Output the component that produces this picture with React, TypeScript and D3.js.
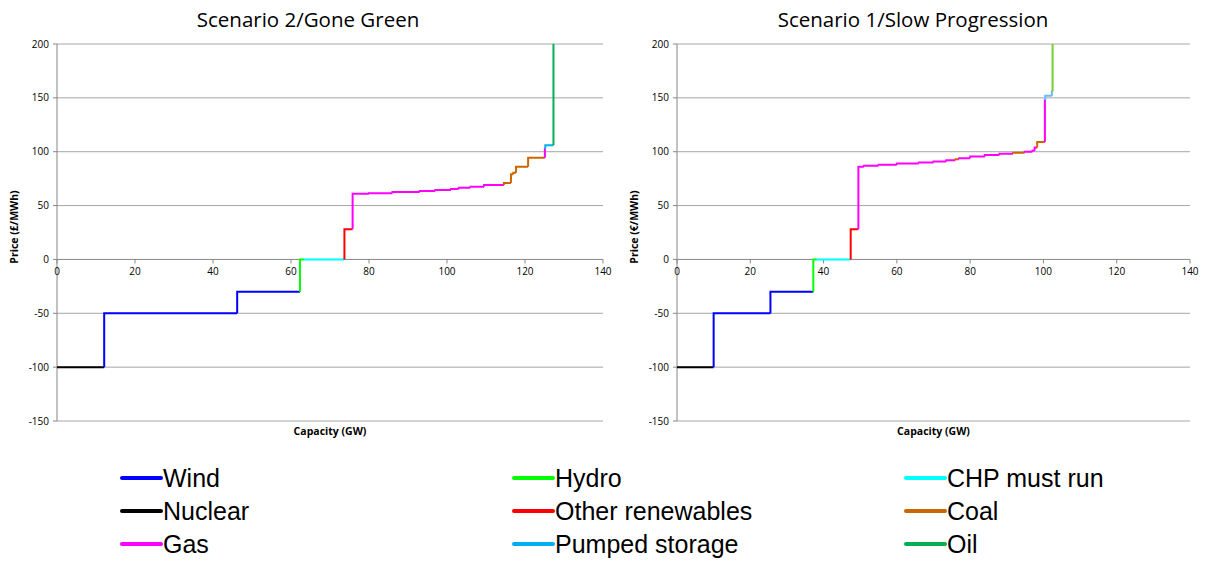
import React from "react";
import * as d3 from "d3";

type Step = { fuel: string; x0: number; x1: number; price: number };

const fuels = ["Wind", "Nuclear", "Gas", "Hydro", "Other renewables", "Pumped storage", "CHP must run", "Coal", "Oil"];
const fuelColors: Record<string, string> = {
  Wind: "#0000FF",
  Nuclear: "#000000",
  Gas: "#FF00FF",
  Hydro: "#00FF00",
  "Other renewables": "#FF0000",
  "Pumped storage": "#00B0F0",
  "CHP must run": "#00FFFF",
  Coal: "#CC6600",
  Oil: "#00B050",
};
const rightOverrides: Record<string, string> = { Oil: "#77CC33", "Pumped storage": "#66BBFF" };

const xTicks = [0, 20, 40, 60, 80, 100, 120, 140];
const yTicks = [-150, -100, -50, 0, 50, 100, 150, 200];

// Scenario 2 / Gone Green merit order
const goneGreen: Step[] = [
  { fuel: "Nuclear", x0: 0, x1: 12.1, price: -100 },
  { fuel: "Wind", x0: 12.1, x1: 46.2, price: -50 },
  { fuel: "Wind", x0: 46.2, x1: 62.3, price: -30 },
  { fuel: "Hydro", x0: 62.3, x1: 63.3, price: 0 },
  { fuel: "CHP must run", x0: 63.3, x1: 73.7, price: 0 },
  { fuel: "Other renewables", x0: 73.7, x1: 75.8, price: 28 },
  { fuel: "Gas", x0: 75.8, x1: 80, price: 61 },
  { fuel: "Gas", x0: 80, x1: 86, price: 61.5 },
  { fuel: "Gas", x0: 86, x1: 93, price: 62.5 },
  { fuel: "Gas", x0: 93, x1: 97, price: 63.5 },
  { fuel: "Gas", x0: 97, x1: 101, price: 64.5 },
  { fuel: "Gas", x0: 101, x1: 103, price: 65.5 },
  { fuel: "Gas", x0: 103, x1: 106, price: 66.5 },
  { fuel: "Gas", x0: 106, x1: 109.5, price: 67.5 },
  { fuel: "Gas", x0: 109.5, x1: 114.6, price: 69 },
  { fuel: "Coal", x0: 114.6, x1: 116.4, price: 71 },
  { fuel: "Coal", x0: 116.4, x1: 117, price: 79 },
  { fuel: "Coal", x0: 117, x1: 117.7, price: 80.5 },
  { fuel: "Coal", x0: 117.7, x1: 120.8, price: 86 },
  { fuel: "Coal", x0: 120.8, x1: 125.1, price: 94.5 },
  { fuel: "Gas", x0: 125.1, x1: 125.2, price: 102.8 },
  { fuel: "Pumped storage", x0: 125.2, x1: 127.3, price: 106 },
  { fuel: "Oil", x0: 127.3, x1: 127.4, price: 200 },
];

// Scenario 1 / Slow Progression merit order
const slowProgression: Step[] = [
  { fuel: "Nuclear", x0: 0, x1: 10, price: -100 },
  { fuel: "Wind", x0: 10, x1: 25.5, price: -50 },
  { fuel: "Wind", x0: 25.5, x1: 37.2, price: -30 },
  { fuel: "Hydro", x0: 37.2, x1: 38.1, price: 0 },
  { fuel: "CHP must run", x0: 38.1, x1: 47.4, price: 0 },
  { fuel: "Other renewables", x0: 47.4, x1: 49.5, price: 28 },
  { fuel: "Gas", x0: 49.5, x1: 51, price: 86 },
  { fuel: "Gas", x0: 51, x1: 55, price: 87 },
  { fuel: "Gas", x0: 55, x1: 60, price: 88 },
  { fuel: "Gas", x0: 60, x1: 66, price: 89 },
  { fuel: "Gas", x0: 66, x1: 70, price: 90 },
  { fuel: "Gas", x0: 70, x1: 73.5, price: 91 },
  { fuel: "Gas", x0: 73.5, x1: 76, price: 92 },
  { fuel: "Coal", x0: 76, x1: 77, price: 93 },
  { fuel: "Gas", x0: 77, x1: 80, price: 94 },
  { fuel: "Gas", x0: 80, x1: 84, price: 95.5 },
  { fuel: "Gas", x0: 84, x1: 88, price: 97 },
  { fuel: "Gas", x0: 88, x1: 91.7, price: 98 },
  { fuel: "Coal", x0: 91.7, x1: 94.9, price: 99 },
  { fuel: "Gas", x0: 94.9, x1: 97, price: 100 },
  { fuel: "Gas", x0: 97, x1: 97.6, price: 101 },
  { fuel: "Gas", x0: 97.6, x1: 98.3, price: 104 },
  { fuel: "Coal", x0: 98.3, x1: 100.4, price: 109 },
  { fuel: "Gas", x0: 100.4, x1: 100.5, price: 148 },
  { fuel: "Pumped storage", x0: 100.5, x1: 102.3, price: 152 },
  { fuel: "Pumped storage", x0: 102.3, x1: 102.5, price: 156 },
  { fuel: "Oil", x0: 102.5, x1: 102.6, price: 200 },
];

const tickFont = "'Open Sans', sans-serif";

function Panel(props: {
  steps: Step[];
  left: number;
  right: number;
  title: string;
  titleX: number;
  yLabel: string;
  overrides?: Record<string, string>;
  id: string;
}) {
  const { steps, left, right, title, titleX, yLabel, overrides, id } = props;
  const top = 44;
  const bottom = 421;
  const x = d3.scaleLinear().domain([0, 140]).range([left, right]);
  const y = d3.scaleLinear().domain([-150, 200]).range([bottom, top]);
  const line = d3.line<[number, number]>().x((d) => x(d[0])).y((d) => y(d[1]));
  const color = (f: string) => (overrides && overrides[f]) || fuelColors[f];
  const y0 = y(0);
  return (
    <g>
      <text x={titleX} y={27} textAnchor="middle" fontFamily="'Open Sans', sans-serif" fontSize={20.5} fill="#000">
        {title}
      </text>
      {yTicks.map((t) => (
        <g key={"y" + t}>
          {t !== -150 && t !== 0 ? (
            <line x1={left} x2={right} y1={y(t)} y2={y(t)} stroke="#A6A6A6" strokeWidth={1} />
          ) : null}
          <line x1={left - 4} x2={left} y1={y(t)} y2={y(t)} stroke="#868686" strokeWidth={1} />
          <text x={left - 8} y={y(t) + 3.5} textAnchor="end" fontFamily={tickFont} fontSize={10} fill="#000">
            {t}
          </text>
        </g>
      ))}
      <line x1={left} x2={right} y1={bottom} y2={bottom} stroke="#A6A6A6" strokeWidth={1} />
      <line x1={left} x2={left} y1={top} y2={bottom} stroke="#868686" strokeWidth={1} />
      <line x1={left} x2={right} y1={y0} y2={y0} stroke="#868686" strokeWidth={1} />
      {xTicks.map((t) => (
        <g key={"x" + t}>
          <line x1={x(t)} x2={x(t)} y1={y0} y2={y0 + 4} stroke="#868686" strokeWidth={1} />
          <text x={x(t)} y={y0 + 16} textAnchor="middle" fontFamily={tickFont} fontSize={10} fill="#000">
            {t}
          </text>
        </g>
      ))}
      <clipPath id={id}>
        <rect x={left} y={top} width={right - left} height={bottom - top} />
      </clipPath>
      <g clipPath={`url(#${id})`}>
        {steps.map((s, i) => {
          const prev = i > 0 ? steps[i - 1].price : s.price;
          const pts: [number, number][] = [
            [s.x0, prev],
            [s.x0, s.price],
            [s.x1, s.price],
          ];
          return (
            <path key={i} d={line(pts) || ""} fill="none" stroke={color(s.fuel)} strokeWidth={2} strokeLinejoin="miter" />
          );
        })}
      </g>
      <text
        x={(left + right) / 2}
        y={435}
        textAnchor="middle"
        fontFamily={tickFont}
        fontWeight="bold"
        fontSize={10.5}
        fill="#000"
      >
        Capacity (GW)
      </text>
      <text
        transform={`translate(${left - 39},227) rotate(-90)`}
        textAnchor="middle"
        fontFamily={tickFont}
        fontWeight="bold"
        fontSize={10.5}
        fill="#000"
      >
        {yLabel}
      </text>
    </g>
  );
}

const legendCols = [122, 514, 906];
const legendRows = [478, 511, 544];

export default function App() {
  return (
    <svg
      width={1210}
      height={562}
      style={{ position: "absolute", left: 0, top: 0, background: "#fff" }}
    >
      <rect x={0} y={0} width={1210} height={562} fill="#fff" />
      <Panel
        steps={goneGreen}
        left={57}
        right={603}
        title="Scenario 2/Gone Green"
        titleX={308}
        yLabel="Price (£/MWh)"
        id="clipL"
      />
      <Panel
        steps={slowProgression}
        left={677}
        right={1190}
        title="Scenario 1/Slow Progression"
        titleX={913}
        yLabel="Price (€/MWh)"
        overrides={rightOverrides}
        id="clipR"
      />
      {fuels.map((f, i) => {
        const col = Math.floor(i / 3);
        const row = i % 3;
        const lx = legendCols[col];
        const ly = legendRows[row];
        return (
          <g key={f}>
            <line x1={lx} x2={lx + 39} y1={ly} y2={ly} stroke={fuelColors[f]} strokeWidth={4} strokeLinecap="round" />
            <text x={lx + 41} y={ly + 9} fontFamily="'Liberation Sans', Arial, sans-serif" fontSize={25} fill="#000">
              {f}
            </text>
          </g>
        );
      })}
    </svg>
  );
}
